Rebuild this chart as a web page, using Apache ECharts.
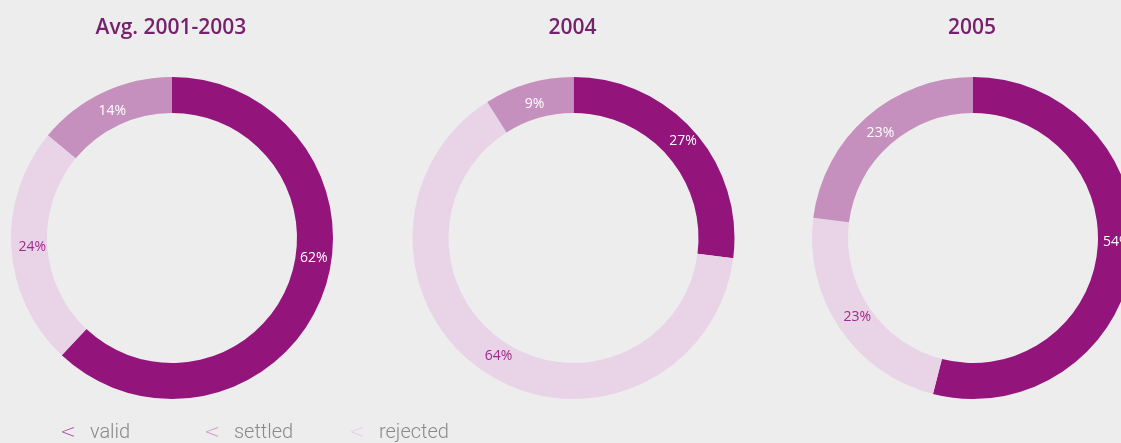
<!DOCTYPE html>
<html>
<head>
<meta charset="utf-8">
<script src="https://cdn.jsdelivr.net/npm/echarts@6/dist/echarts.min.js"></script>
<style>
html,body{margin:0;padding:0;background:#ededed;}
#c{width:1121px;height:443px;}
</style>
</head>
<body>
<div id="c"></div>
<script>
// Data
const periods = ['Avg. 2001-2003', '2004', '2005'];
const categories = ['valid', 'rejected', 'settled']; // clockwise order from top
const legendOrder = ['valid', 'settled', 'rejected'];
const validValues = [62, 27, 54];
const rejectedValues = [24, 64, 23];
const settledValues = [14, 9, 23];

const colors = { valid: '#93157c', settled: '#c590bd', rejected: '#e8d4e6' };
const labelColors = { valid: '#ffffff', settled: '#ffffff', rejected: '#a1288c' };
const markerColors = { valid: '#b24ba2', settled: '#cf93c7', rejected: '#e4d0e2' };
const centersX = [172, 573.5, 973];
const centerY = 238;
const legendLeft = [50, 194, 339];
// label nudges for the large 'valid' slice (style only)
const validLabelOffset = [[6, -34], [0, 0], [-1, -14]];
const labelInset = 6;

const chart = echarts.init(document.getElementById('c'), null, { renderer: 'canvas' });

const valuesFor = { valid: validValues, rejected: rejectedValues, settled: settledValues };

const series = periods.map((p, i) => ({
  type: 'pie',
  name: p,
  center: [centersX[i], centerY],
  radius: [125, 161],
  startAngle: 90,
  clockwise: true,
  avoidLabelOverlap: false,
  silent: true,
  label: {
    show: true,
    position: 'inside',
    formatter: '{c}%',
    fontFamily: 'Open Sans',
    fontSize: 14
  },
  labelLine: { show: false },
  labelLayout: function (params) {
    if (params.dataIndex === 0) return {};
    const lr = params.labelRect;
    const cx = centersX[params.seriesIndex];
    const lx = lr.x + lr.width / 2, ly = lr.y + lr.height / 2;
    const dx = lx - cx, dy = ly - centerY;
    const d = Math.sqrt(dx * dx + dy * dy);
    const k = (d - labelInset) / d;
    return { x: cx + dx * k, y: centerY + dy * k, align: 'center', verticalAlign: 'middle' };
  },
  data: categories.map(name => ({
    name: name,
    value: valuesFor[name][i],
    itemStyle: { color: colors[name] },
    label: name === 'valid'
      ? { color: labelColors[name], offset: validLabelOffset[i] }
      : { color: labelColors[name] }
  }))
}));

const titles = periods.map((p, i) => ({
  text: p,
  left: centersX[i] - 6,
  top: 13,
  textAlign: 'center',
  textStyle: { fontFamily: 'Open Sans', fontSize: 21, fontWeight: 600, color: '#76216b' }
}));

const legends = legendOrder.map((name, i) => ({
  data: [name],
  left: legendLeft[i],
  top: 418,
  itemWidth: 0,
  itemHeight: 0,
  itemGap: 0,
  icon: 'none',
  selectedMode: false,
  formatter: n => `{s|<}{t|${n}}`,
  textStyle: {
    fontFamily: 'Roboto',
    fontSize: 20,
    fontWeight: 300,
    color: '#8a8a8a',
    rich: {
      s: { color: markerColors[name], fontSize: 19, fontFamily: 'DejaVu Sans', padding: [0, 14, 0, 0] },
      t: { color: '#8a8a8a', fontSize: 20, fontFamily: 'Roboto', fontWeight: 300 }
    }
  }
}));

chart.setOption({
  backgroundColor: '#ededed',
  animation: false,
  title: titles,
  legend: legends,
  series: series
});
</script>
</body>
</html>
